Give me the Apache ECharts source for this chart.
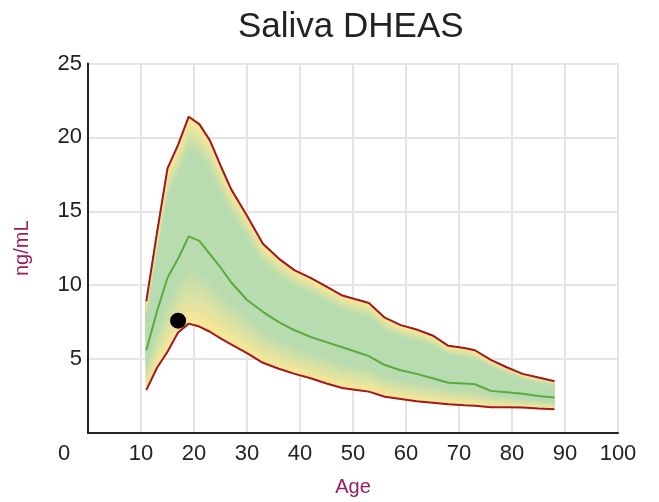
<!DOCTYPE html>
<html>
<head>
<meta charset="utf-8">
<script src="https://cdn.jsdelivr.net/npm/echarts@6/dist/echarts.min.js"></script>
<style>
  html, body { margin: 0; padding: 0; background: #fff; }
  #chart { width: 659px; height: 502px; }
</style>
</head>
<body>
<div id="chart"></div>
<script>
// reference curves (age in years, ng/mL)
const ages = [11, 13, 15, 17, 19, 21, 23, 25, 27, 30, 33, 36, 39, 42, 45, 48, 51, 53, 56, 59, 62, 65, 68, 71, 73, 76, 79, 82, 85, 88]
const upper = [8.9, 13.5, 17.9, 19.5, 21.4, 20.9, 19.8, 18.1, 16.5, 14.7, 12.8, 11.8, 11.0, 10.5, 9.9, 9.3, 9.0, 8.8, 7.8, 7.3, 7.0, 6.6, 5.9, 5.75, 5.6, 4.95, 4.45, 4.0, 3.75, 3.5]
const median = [5.6, 8.2, 10.5, 11.8, 13.3, 13.0, 12.1, 11.2, 10.2, 9.0, 8.2, 7.5, 6.95, 6.5, 6.15, 5.8, 5.45, 5.2, 4.6, 4.25, 4.0, 3.7, 3.4, 3.35, 3.3, 2.85, 2.75, 2.65, 2.5, 2.4]
const lower = [2.9, 4.4, 5.5, 6.8, 7.4, 7.2, 6.85, 6.4, 6.0, 5.4, 4.75, 4.35, 4.0, 3.7, 3.35, 3.05, 2.9, 2.8, 2.45, 2.3, 2.15, 2.05, 1.95, 1.88, 1.85, 1.75, 1.75, 1.72, 1.65, 1.6]
// the patient's result
const patient = [[17, 7.6]]

const font = 'Liberation Sans, Arial, Helvetica, sans-serif'
const green = [184, 220, 176]
const yellow = [253, 232, 150]

// the band fades to yellow at both edges: painted as thin layers
const slices = 30
function sliceColor(f) {
  let w = Math.max(0, 1 - f / 0.28, 1 - (1 - f) / 0.16)
  w = Math.min(1, w)
  const c = green.map((g, i) => Math.round(g + (yellow[i] - g) * w))
  return 'rgb(' + c.join(',') + ')'
}

function renderBand(params, api) {
  if (params.dataIndex !== 0) return
  const children = []
  for (let s = 0; s < slices; s++) {
    const f = s / slices
    const pts = []
    for (let i = 0; i < ages.length; i++) {
      pts.push(api.coord([ages[i], upper[i]]))
    }
    for (let i = ages.length - 1; i >= 0; i--) {
      pts.push(api.coord([ages[i], lower[i] + (upper[i] - lower[i]) * f]))
    }
    const col = sliceColor((s + 0.5) / slices)
    children.push({
      type: 'polygon',
      shape: { points: pts },
      style: { fill: col, stroke: col, lineWidth: 1 }
    })
  }
  return { type: 'group', children }
}

const chart = echarts.init(document.getElementById('chart'), null, { renderer: 'canvas' })
chart.setOption({
  animation: false,
  textStyle: { fontFamily: font },
  title: {
    text: 'Saliva DHEAS',
    left: 233,
    top: 5,
    textStyle: { fontSize: 35, fontWeight: 'normal', color: '#222', fontFamily: font }
  },
  grid: { left: 88, right: 41, top: 63.5, bottom: 68.5 },
  xAxis: {
    type: 'value',
    min: 0,
    max: 100,
    interval: 10,
    name: 'Age',
    nameLocation: 'middle',
    nameGap: 44,
    nameTextStyle: { color: '#9b1b5f', fontSize: 20, fontFamily: font },
    axisLine: { lineStyle: { color: '#222', width: 2 } },
    axisTick: { show: false },
    axisLabel: {
      margin: 10,
      fontSize: 22,
      color: '#222',
      fontFamily: font,
      formatter: v => (v === 0 ? '{z|0}' : String(v)),
      rich: { z: { fontSize: 22, color: '#222', fontFamily: font, padding: [0, 48, 0, 0] } }
    },
    splitLine: { show: true, lineStyle: { color: '#e4e4e4', width: 2 } }
  },
  yAxis: {
    type: 'value',
    min: 0,
    max: 25,
    interval: 5,
    name: 'ng/mL',
    nameLocation: 'middle',
    nameGap: 56,
    nameTextStyle: { color: '#9b1b5f', fontSize: 20, fontFamily: font },
    axisLine: { show: true, lineStyle: { color: '#222', width: 2 } },
    axisTick: { show: false },
    axisLabel: {
      margin: 6,
      fontSize: 22,
      color: '#222',
      fontFamily: font,
      formatter: v => (v === 0 ? '' : String(v))
    },
    splitLine: { show: true, lineStyle: { color: '#e4e4e4', width: 2 } }
  },
  series: [
    {
      type: 'custom',
      renderItem: renderBand,
      data: ages.map((a, i) => [a, lower[i], upper[i]]),
      silent: true,
      z: 1
    },
    {
      type: 'line',
      data: ages.map((a, i) => [a, upper[i]]),
      symbol: 'none',
      lineStyle: { color: '#a5161a', width: 2 }
    },
    {
      type: 'line',
      data: ages.map((a, i) => [a, lower[i]]),
      symbol: 'none',
      lineStyle: { color: '#a5161a', width: 2 }
    },
    {
      type: 'line',
      data: ages.map((a, i) => [a, median[i]]),
      symbol: 'none',
      lineStyle: { color: '#5aab3b', width: 2 }
    },
    {
      type: 'scatter',
      data: patient,
      symbolSize: 16,
      itemStyle: { color: '#000', opacity: 1 },
      z: 10
    }
  ]
})
</script>
</body>
</html>
